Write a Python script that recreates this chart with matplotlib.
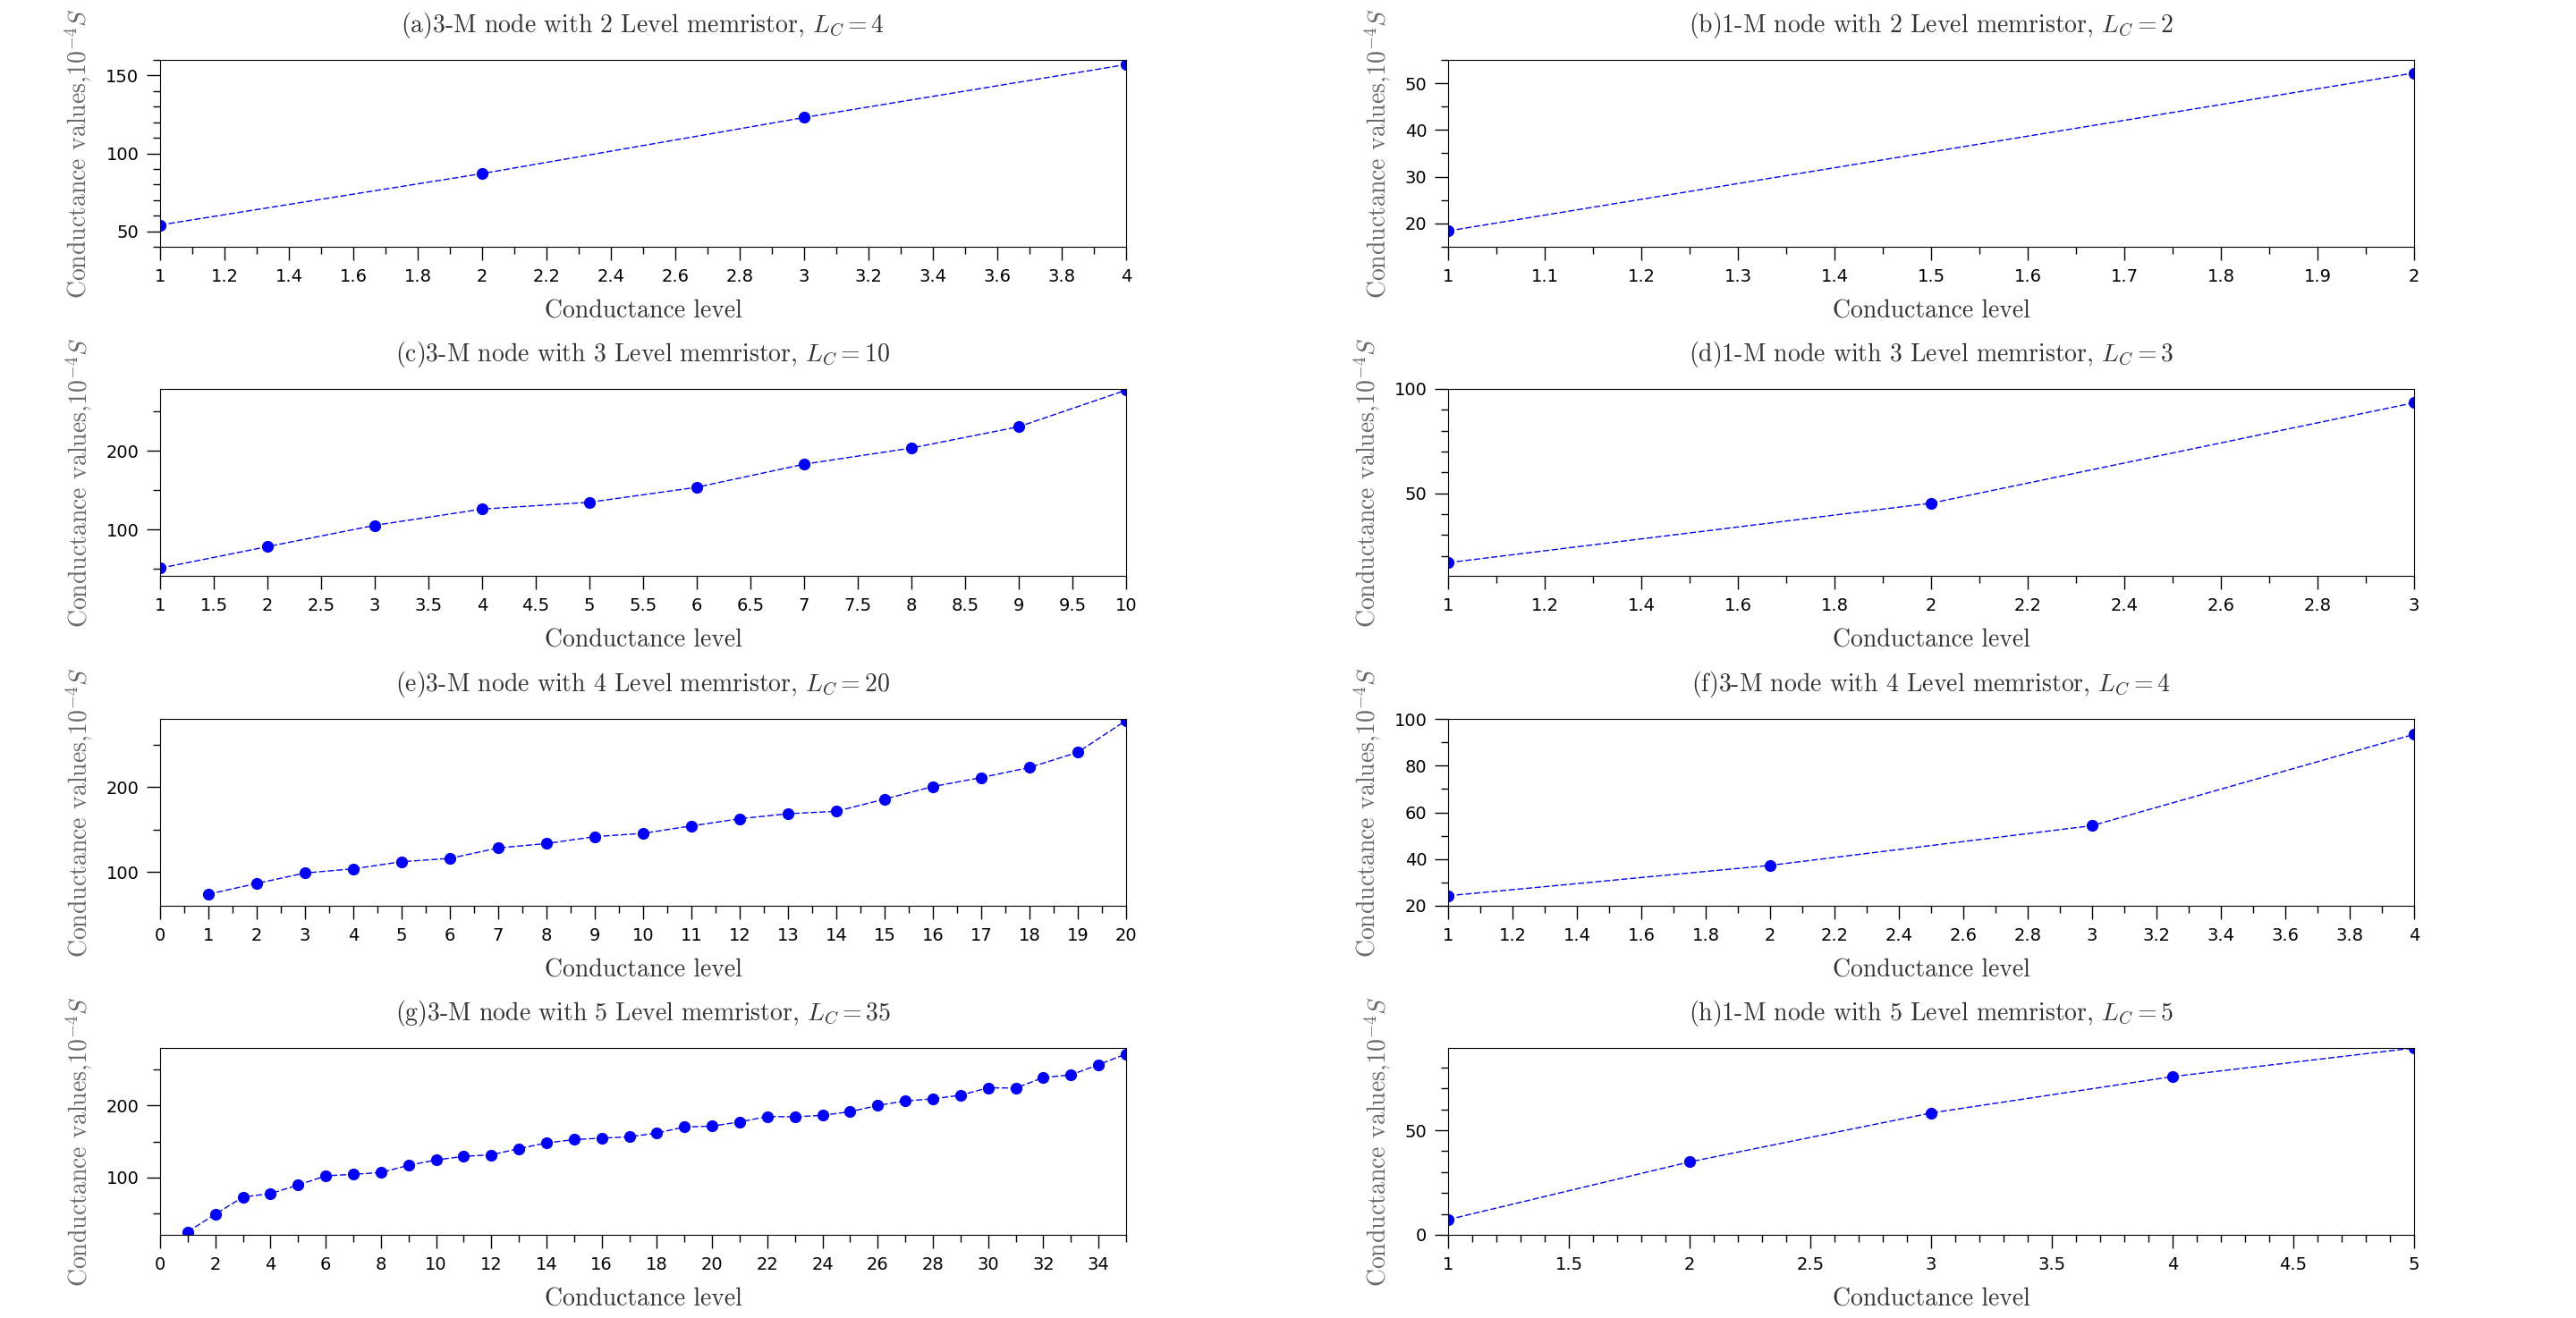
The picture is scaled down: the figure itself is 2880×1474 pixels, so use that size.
import matplotlib.pyplot as plt
from matplotlib.ticker import MultipleLocator, FuncFormatter

plt.rcParams['mathtext.fontset'] = 'cm'

# conductance values (1e-4 S) per panel
level_a = [1, 2, 3, 4]
value_a = [54, 87, 123, 157]

level_b = [1, 2]
value_b = [18.4, 52.2]

level_c = [1, 2, 3, 4, 5, 6, 7, 8, 9, 10]
value_c = [50.8, 78.2, 105.3, 126, 134.7, 153.8, 183.2, 203.8, 230.9, 277.5]

level_d = [1, 2, 3]
value_d = [16.8, 45.3, 93.4]

level_e = list(range(1, 21))
value_e = [73.7, 86.3, 98.6, 103.5, 111.9, 115.8, 128.1, 133.3, 141.4, 145.3,
           154.0, 162.5, 168.4, 171.2, 185.6, 200.4, 210.9, 222.8, 240.7, 278.2]

level_f = [1, 2, 3, 4]
value_f = [24.3, 37.3, 54.3, 93.4]

level_g = list(range(1, 36))
value_g = [24.2, 48.8, 72.5, 77.5, 89.2, 102.1, 104.2, 106.7, 116.7, 124.2,
           129.2, 131.3, 140.0, 147.9, 152.5, 154.6, 156.3, 161.7, 170.0, 171.3,
           177.1, 184.6, 184.2, 186.3, 191.3, 200.0, 206.3, 209.2, 214.2, 224.6,
           224.2, 238.8, 242.5, 256.7, 271.7]

level_h = [1, 2, 3, 4, 5]
value_h = [7.3, 34.9, 58.3, 75.7, 89.4]

titles = [
    r"(a)3-M node with 2 Level memristor, $L_C = 4$",
    r"(b)1-M node with 2 Level memristor, $L_C = 2$",
    r"(c)3-M node with 3 Level memristor, $L_C = 10$",
    r"(d)1-M node with 3 Level memristor, $L_C = 3$",
    r"(e)3-M node with 4 Level memristor, $L_C = 20$",
    r"(f)3-M node with 4 Level memristor, $L_C = 4$",
    r"(g)3-M node with 5 Level memristor, $L_C = 35$",
    r"(h)1-M node with 5 Level memristor, $L_C = 5$",
]
series = [(level_a, value_a), (level_b, value_b), (level_c, value_c), (level_d, value_d),
          (level_e, value_e), (level_f, value_f), (level_g, value_g), (level_h, value_h)]

# axis settings: xlim, x major, x minor, ylim, y major, y minor
axis_cfg = [
    ((1, 4), 0.2, 0.1, (40, 160), 50, 10),
    ((1, 2), 0.1, 0.05, (15, 55), 10, 5),
    ((1, 10), 0.5, None, (41, 279), 100, 50),
    ((1, 3), 0.2, 0.1, (10.5, 100), 50, 10),
    ((0, 20), 1, 0.5, (60, 280), 100, 50),
    ((1, 4), 0.2, 0.1, (20, 100), 20, 10),
    ((0, 35), 2, 1, (20, 280), 100, 50),
    ((1, 5), 0.5, 0.1, (0, 89.4), 50, 10),
]

W, H = 2880, 1474
fig = plt.figure(figsize=(W / 100, H / 100), dpi=100)
lefts = [179, 1619]
bottoms = [276, 644, 1013, 1381]
aw, ah = 1080, 209
fmt = FuncFormatter(lambda v, p: '%g' % round(v, 6))

for i, ((x, y), title, cfg) in enumerate(zip(series, titles, axis_cfg)):
    row, col = divmod(i, 2)
    ax = fig.add_axes([lefts[col] / W, 1 - bottoms[row] / H, aw / W, ah / H])
    ax.plot(x, y, color='blue', linestyle=(0, (5, 2)), linewidth=1,
            marker='o', markersize=8.5)
    xlim, xmaj, xmin, ylim, ymaj, ymin = cfg
    ax.set_xlim(*xlim)
    ax.set_ylim(*ylim)
    ax.xaxis.set_major_locator(MultipleLocator(xmaj))
    if xmin:
        ax.xaxis.set_minor_locator(MultipleLocator(xmin))
    ax.yaxis.set_major_locator(MultipleLocator(ymaj))
    ax.yaxis.set_minor_locator(MultipleLocator(ymin))
    ax.xaxis.set_major_formatter(fmt)
    ax.yaxis.set_major_formatter(fmt)
    ax.tick_params(which='major', length=11, width=1, labelsize=14, pad=6)
    ax.tick_params(which='minor', length=6, width=1)
    ax.set_title(title, fontsize=20, family='cmr10', color='#333333', pad=22)
    ax.set_xlabel("Conductance level", fontsize=20, family='cmr10',
                  color='#333333', labelpad=12)
    ax.set_ylabel(r"Conductance values,$10^{-4}S$", fontsize=20, family='cmr10',
                  color='#6a6a6a', labelpad=10)

fig.savefig('out.png', dpi=100)
